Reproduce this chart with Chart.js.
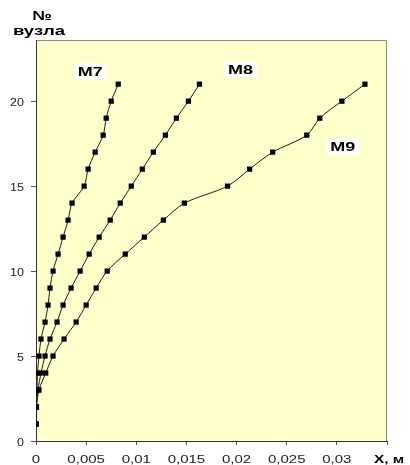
<!DOCTYPE html>
<html>
<head>
<meta charset="utf-8">
<script src="https://cdn.jsdelivr.net/npm/chart.js@4"></script>
<style>
  html, body { margin: 0; padding: 0; background: #fff; }
  #wrap { width: 410px; height: 465px; }
</style>
</head>
<body>
<div id="wrap"><canvas id="chart" width="410" height="465"></canvas></div>
<script>
// node numbers (y) and displacement X, m for each model
const nodes = [1, 2, 3, 4, 5, 6, 7, 8, 9, 10, 11, 12, 13, 14, 15, 16, 17, 18, 19, 20, 21];
const m7X = [0.00002, 0.00003, 0.0001, 0.00015, 0.0003, 0.0005, 0.0009, 0.0012, 0.0014, 0.0017, 0.0022,
             0.0027, 0.0032, 0.0036, 0.0048, 0.0052, 0.0059, 0.0067, 0.007, 0.0075, 0.0082];
const m8X = [0.00002, 0.00004, 0.0002, 0.0005, 0.0009, 0.0014, 0.0021, 0.0027, 0.0035, 0.0044, 0.0053,
             0.0063, 0.0074, 0.0084, 0.0095, 0.0106, 0.0117, 0.0129, 0.014, 0.0152, 0.0163];
const m9X = [0.00002, 0.00005, 0.0003, 0.00097, 0.0017, 0.0028, 0.004, 0.005, 0.006, 0.0071, 0.0089,
             0.0108, 0.0127, 0.0148, 0.0191, 0.0213, 0.0236, 0.027, 0.0283, 0.0305, 0.0328];

const seriesNames = ['M7', 'M8', 'M9'];
// where the series names sit, in data units
const labelX = [0.0054, 0.0204, 0.0306];
const labelY = [21.76, 21.88, 17.35];

const xTickStep = 0.005;
const yTickStep = 5;
const xMax = 0.035;
const yMax = 23.6;
const xTitle = 'X, м';
const yTitle = ['№', 'вузла'];

const FONT = 'Arial, "Liberation Sans", sans-serif';

function toPoints(xs) {
  return xs.map((x, i) => ({ x: x, y: nodes[i] }));
}

function makeSet(name, xs) {
  return {
    label: name,
    data: toPoints(xs),
    borderColor: '#1a1a1a',
    borderWidth: 1,
    backgroundColor: '#000',
    pointStyle: 'rect',
    pointRadius: 3.7,
    pointBorderWidth: 0,
    tension: 0.3,
    fill: false
  };
}

// the original text is wide, so it is drawn with a horizontal stretch
function wideText(ctx, text, x, y, font, sx, align) {
  ctx.save();
  ctx.font = font;
  ctx.textBaseline = 'alphabetic';
  const w = ctx.measureText(text).width * sx;
  let left = x;
  if (align === 'center') left = x - w / 2;
  if (align === 'right') left = x - w;
  ctx.translate(left, y);
  ctx.scale(sx, 1);
  ctx.textAlign = 'left';
  ctx.fillText(text, 0, 0);
  ctx.restore();
  return w;
}

function xLabel(v) {
  if (Math.abs(v - xMax) < 1e-9) return xTitle;
  return String(Math.round(v * 1000) / 1000).replace('.', ',');
}

const plotBg = {
  id: 'plotBg',
  beforeDraw(chart) {
    const { ctx, chartArea: a } = chart;
    ctx.save();
    ctx.fillStyle = '#FFFFCC';
    ctx.fillRect(a.left, a.top, a.right - a.left, a.bottom - a.top);
    ctx.strokeStyle = '#8c8c8c';
    ctx.lineWidth = 1;
    ctx.beginPath();
    ctx.moveTo(a.left, a.top + 0.5);
    ctx.lineTo(a.right - 0.5, a.top + 0.5);
    ctx.lineTo(a.right - 0.5, a.bottom);
    ctx.stroke();
    ctx.restore();
  }
};

const texts = {
  id: 'texts',
  afterDraw(chart) {
    const { ctx } = chart;
    const xs = chart.scales.x, ys = chart.scales.y;
    ctx.save();

    // tick labels
    xs.ticks.forEach(t => {
      const px = xs.getPixelForValue(t.value);
      const last = Math.abs(t.value - xMax) < 1e-9;
      const font = last ? 'bold 11px ' + FONT : '10px ' + FONT;
      ctx.fillStyle = last ? '#000' : '#222';
      wideText(ctx, xLabel(t.value), px + (last ? 2 : 0), 463, font, last ? 1.4 : 1.5, 'center');
    });
    ctx.fillStyle = '#222';
    ys.ticks.forEach(t => {
      const py = ys.getPixelForValue(t.value);
      wideText(ctx, String(t.value), 24, py + 4.5, '10px ' + FONT, 1.25, 'right');
    });

    // series names on white boxes
    seriesNames.forEach((name, i) => {
      const px = xs.getPixelForValue(labelX[i]);
      const py = ys.getPixelForValue(labelY[i]);
      ctx.font = 'bold 12px ' + FONT;
      const w = ctx.measureText(name).width * 1.5;
      ctx.fillStyle = '#fff';
      ctx.fillRect(px - w / 2 - 4, py - 8, w + 8, 16);
      ctx.fillStyle = '#000';
      wideText(ctx, name, px, py + 4.5, 'bold 12px ' + FONT, 1.5, 'center');
    });

    // y axis caption
    ctx.fillStyle = '#000';
    wideText(ctx, yTitle[0], 42, 20, 'bold 13px ' + FONT, 1.35, 'center');
    wideText(ctx, yTitle[1], 39, 35, 'bold 12px ' + FONT, 1.55, 'center');
    ctx.restore();
  }
};

function keepSteps(step) {
  return scale => {
    scale.ticks = scale.ticks.filter(t => {
      const k = t.value / step;
      return Math.abs(k - Math.round(k)) < 1e-6;
    });
  };
}

new Chart(document.getElementById('chart'), {
  type: 'line',
  data: {
    datasets: [makeSet('M7', m7X), makeSet('M8', m8X), makeSet('M9', m9X)]
  },
  options: {
    responsive: false,
    animation: false,
    layout: { padding: { left: 0, right: 23, top: 40, bottom: 0 } },
    plugins: { legend: { display: false }, tooltip: { enabled: false } },
    scales: {
      x: {
        type: 'linear',
        min: 0,
        max: xMax,
        afterBuildTicks: keepSteps(xTickStep),
        afterFit: s => { s.height = 24; },
        border: { color: '#333', width: 1 },
        grid: { drawOnChartArea: false, drawTicks: true, tickLength: 4, color: '#555' },
        ticks: { stepSize: xTickStep, display: false }
      },
      y: {
        type: 'linear',
        min: 0,
        max: yMax,
        afterBuildTicks: keepSteps(yTickStep),
        afterFit: s => { s.width = 36; },
        border: { color: '#333', width: 1 },
        grid: { drawOnChartArea: false, drawTicks: true, tickLength: 5, color: '#555' },
        ticks: { stepSize: yTickStep, display: false }
      }
    }
  },
  plugins: [plotBg, texts]
});
</script>
</body>
</html>
